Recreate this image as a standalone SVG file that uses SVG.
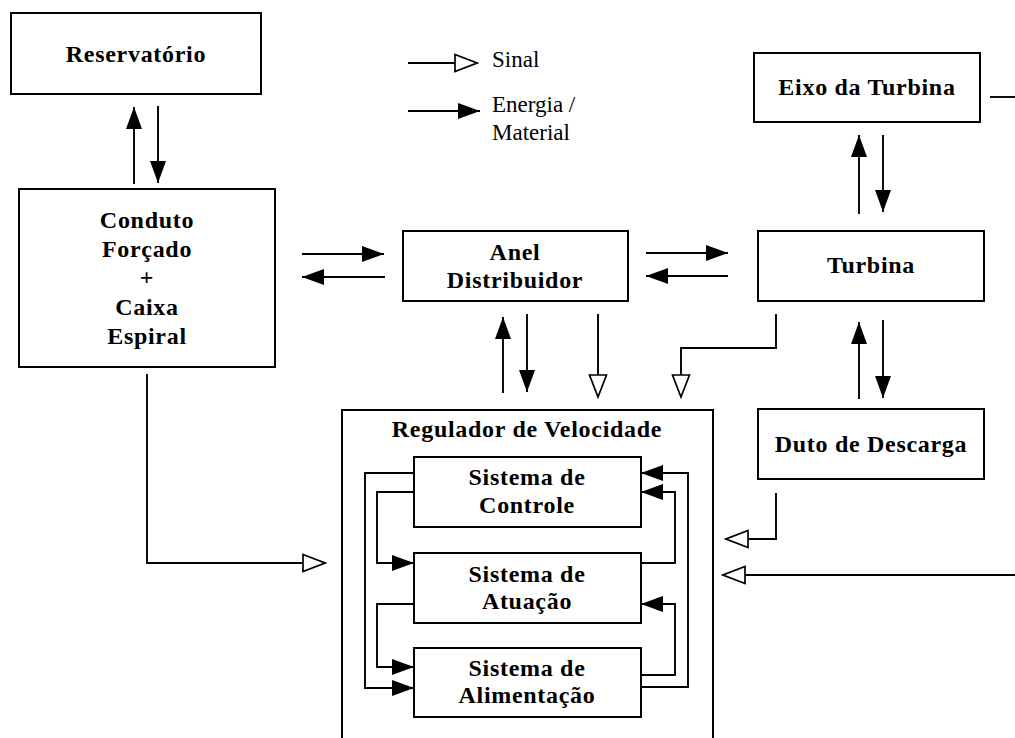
<svg xmlns="http://www.w3.org/2000/svg" width="1015" height="738" viewBox="0 0 1015 738">
<style>
.box{fill:#fff;stroke:#000;stroke-width:2}
.t{font-family:"Liberation Serif","Times New Roman",serif;font-weight:bold;font-size:24px;letter-spacing:0.7px;text-anchor:middle;fill:#000}
.lg{font-family:"Liberation Serif","Times New Roman",serif;font-size:23px;fill:#000}
.e{fill:none;stroke:#000;stroke-width:1.9;marker-end:url(#fa)}
.s{fill:none;stroke:#000;stroke-width:1.9;marker-end:url(#ha)}
.p{fill:none;stroke:#000;stroke-width:1.9}
</style>
<defs>
<marker id="fa" markerUnits="userSpaceOnUse" markerWidth="22" markerHeight="16" refX="22" refY="8" orient="auto" viewBox="0 0 22 16">
<path d="M0,0 L22,8 L0,16 z" fill="#000"/>
</marker>
<marker id="ha" markerUnits="userSpaceOnUse" markerWidth="25" markerHeight="21" refX="23" refY="10.5" orient="auto" viewBox="0 0 25 21">
<path d="M1,2 L23,10.5 L1,19 z" fill="#fff" stroke="#000" stroke-width="1.7"/>
</marker>
</defs>
<rect width="1015" height="738" fill="#fff"/>

<g id="legend">
<path class="s" d="M408,63 H477"/>
<text class="lg" x="492" y="67">Sinal</text>
<path class="e" d="M408,111 H480"/>
<text class="lg" x="492" y="112">Energia /</text>
<text class="lg" x="492" y="140">Material</text>
</g>

<g id="reservatorio">
<rect class="box" x="11" y="13" width="250" height="81"/>
<text class="t" x="136" y="62">Reservatório</text>
</g>

<g id="conduto">
<rect class="box" x="19" y="189" width="256" height="178"/>
<text class="t" x="147" y="228">Conduto</text>
<text class="t" x="147" y="257">Forçado</text>
<text class="t" x="147" y="285">+</text>
<text class="t" x="147" y="315">Caixa</text>
<text class="t" x="147" y="344">Espiral</text>
</g>

<g id="anel">
<rect class="box" x="403" y="231" width="225" height="70"/>
<text class="t" x="515" y="260">Anel</text>
<text class="t" x="515" y="288">Distribuidor</text>
</g>

<g id="eixo">
<rect class="box" x="754" y="53" width="226" height="69"/>
<text class="t" x="867" y="95">Eixo da Turbina</text>
</g>

<g id="turbina">
<rect class="box" x="758" y="231" width="226" height="70"/>
<text class="t" x="871" y="273">Turbina</text>
</g>

<g id="duto">
<rect class="box" x="758" y="409" width="226" height="70"/>
<text class="t" x="871" y="452">Duto de Descarga</text>
</g>

<g id="regulador">
<rect class="box" x="342" y="410" width="371" height="345"/>
<text class="t" x="527" y="437">Regulador de Velocidade</text>
</g>

<g id="controle">
<rect class="box" x="414" y="457" width="227" height="70"/>
<text class="t" x="527" y="485">Sistema de</text>
<text class="t" x="527" y="513">Controle</text>
</g>

<g id="atuacao">
<rect class="box" x="414" y="553" width="227" height="70"/>
<text class="t" x="527" y="582">Sistema de</text>
<text class="t" x="527" y="609">Atuação</text>
</g>

<g id="alimentacao">
<rect class="box" x="414" y="648" width="227" height="69"/>
<text class="t" x="527" y="676">Sistema de</text>
<text class="t" x="527" y="703">Alimentação</text>
</g>

<g id="connectors">
<path class="e" d="M134,184 V107"/>
<path class="e" d="M158,106 V183"/>
<path class="e" d="M302,254 H384"/>
<path class="e" d="M385,277 H302"/>
<path class="e" d="M646,253 H728"/>
<path class="e" d="M728,276 H646"/>
<path class="e" d="M503,393 V317"/>
<path class="e" d="M527,314 V392"/>
<path class="e" d="M859,214 V135"/>
<path class="e" d="M883,135 V212"/>
<path class="e" d="M859,399 V322"/>
<path class="e" d="M883,320 V398"/>
<path class="e" d="M414,473 H365 V688 H414"/>
<path class="e" d="M414,492 H377 V563 H414"/>
<path class="e" d="M414,604 H377 V667 H414"/>
<path class="e" d="M641,687 H688 V473 H641"/>
<path class="e" d="M641,563 H675 V492 H641"/>
<path class="e" d="M641,675 H675 V604 H641"/>
<path class="s" d="M598,314 V397"/>
<path class="s" d="M776,314 V348 H681 V397"/>
<path class="s" d="M147,374 V563 H325"/>
<path class="s" d="M776,493 V539 H726"/>
<path class="s" d="M1015,575 H723"/>
<path class="p" d="M990,97 H1015"/>
</g>
</svg>
